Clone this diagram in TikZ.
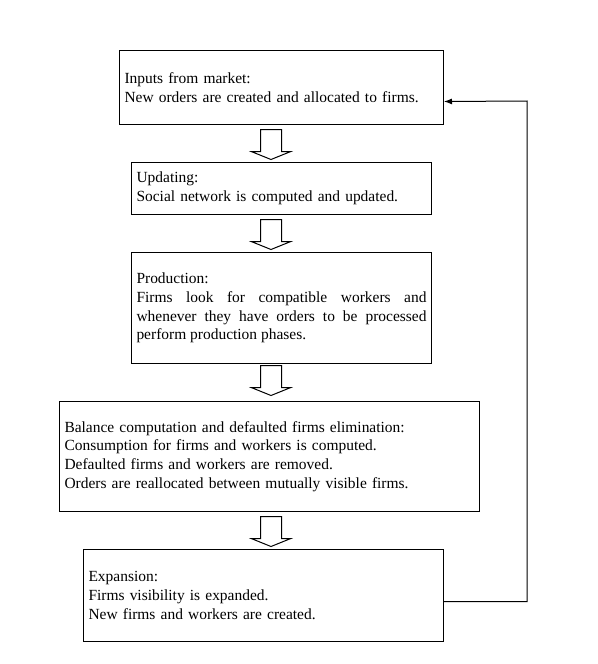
\documentclass[tikz,border=0pt]{standalone}
\usepackage{fontspec}
\setmainfont{Liberation Serif}
\usetikzlibrary{arrows,arrows.meta,shapes,positioning}

\tikzset{
  stage/.style={draw, line width=0.75pt, anchor=north west, inner xsep=3.75pt, inner ysep=0pt, text width=#1, align=left, font=\fontsize{11.6pt}{14pt}\selectfont},
  flow/.style={single arrow, draw, line width=0.75pt, shape border rotate=270, anchor=tail, minimum height=22.5pt, single arrow head extend=6.8pt, single arrow tip angle=136, inner sep=7.5pt}
}

\begin{document}
\begin{tikzpicture}[x=0.75pt,y=-0.75pt]
\useasboundingbox (0,0) rectangle (598,664);
\node[stage=235.5pt, minimum height=55.5pt] (inputs) at (119,50) {Inputs from market:\\ New orders are created and allocated to firms.};
\node[stage=217.5pt, minimum height=39pt] (updating) at (131,162) {Updating:\\ Social network is computed and updated.};
\node[stage=217.5pt, minimum height=83.25pt, align=justify] (production) at (131,252) {Production:\\ Firms look for compatible workers and\linebreak whenever they have orders to be processed\linebreak perform production phases.};
\node[stage=307.5pt, minimum height=82.5pt] (balance) at (59,401) {Balance computation and defaulted firms elimination:\\ Consumption for firms and workers is computed.\\ Defaulted firms and workers are removed.\\ Orders are reallocated between mutually visible firms.};
\node[stage=262.5pt, minimum height=69pt] (expansion) at (83,549) {Expansion:\\ Firms visibility is expanded.\\ New firms and workers are created.};
% block arrows between the stages
\node[flow] (flow1) at (271,129) {};
\node[flow] (flow2) at (271,219) {};
\node[flow] (flow3) at (271,365) {};
\node[flow] (flow4) at (271,516) {};
% back to the start
\coordinate (loop) at (527,101);
\draw[line width=0.75pt,-{Latex[length=6pt,width=4.5pt]}] ([yshift=-4.5pt]expansion.east) -| (loop) -- ([yshift=-10.5pt]inputs.east);
\end{tikzpicture}
\end{document}
